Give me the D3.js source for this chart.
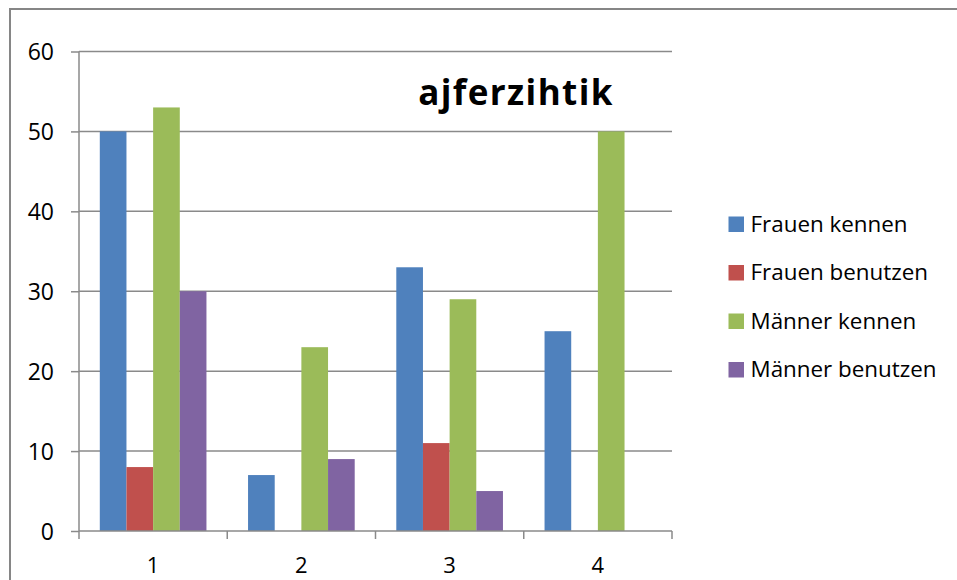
<!DOCTYPE html>
<html>
<head>
<meta charset="utf-8">
<script src="https://cdn.jsdelivr.net/npm/d3@7"></script>
<style>
  html, body { margin: 0; padding: 0; background: #fff; }
  svg { display: block; font-family: "Open Sans", Lato, sans-serif; font-variant-ligatures: none; }
</style>
</head>
<body>
<svg id="chart" width="957" height="580"></svg>
<script>
// Survey groups on the x axis
const categories = ["1", "2", "3", "4"];
// One array per series, in category order
const seriesNames = ["Frauen kennen", "Frauen benutzen", "Männer kennen", "Männer benutzen"];
const frauenKennen = [50, 7, 33, 25];
const frauenBenutzen = [8, 0, 11, 0];
const maennerKennen = [53, 23, 29, 50];
const maennerBenutzen = [30, 9, 5, 0];
const yTicks = [0, 10, 20, 30, 40, 50, 60];
const colors = ["#4F81BD", "#C0504D", "#9BBB59", "#8064A2"];
const titleText = "ajferzihtik";

const seriesValues = [frauenKennen, frauenBenutzen, maennerKennen, maennerBenutzen];

const svg = d3.select("#chart");
const plot = { left: 79, right: 672, top: 51.5, bottom: 531 };

// outer chart frame
svg.append("rect")
  .attr("x", 10).attr("y", 9)
  .attr("width", 960).attr("height", 600)
  .attr("fill", "none").attr("stroke", "#868686").attr("stroke-width", 2);

const x0 = d3.scaleBand().domain(categories).range([plot.left, plot.right]);
// bar cluster fills ~72% of each category band
const x1 = d3.scaleBand().domain(seriesNames).range([0, x0.bandwidth()]).paddingInner(0).paddingOuter(0.78);
const y = d3.scaleLinear().domain([0, 60]).range([plot.bottom, plot.top]);

// horizontal gridlines
svg.append("g").selectAll("line").data(yTicks.filter(d => d > 0)).join("line")
  .attr("x1", plot.left).attr("x2", plot.right)
  .attr("y1", d => y(d)).attr("y2", d => y(d))
  .attr("stroke", "#8a8a8a").attr("stroke-width", 1.5);

// bars
const groups = svg.append("g").selectAll("g").data(categories).join("g")
  .attr("transform", d => `translate(${x0(d)},0)`);
groups.selectAll("rect")
  .data((c, i) => seriesNames.map((s, j) => ({ s, j, v: seriesValues[j][i] })))
  .join("rect")
  .attr("x", d => x1(d.s))
  .attr("width", x1.bandwidth())
  .attr("y", d => y(d.v))
  .attr("height", d => y(0) - y(d.v))
  .attr("fill", d => colors[d.j]);

// y axis
const yAxis = svg.append("g").attr("transform", `translate(${plot.left},0)`)
  .call(d3.axisLeft(y).tickValues(yTicks).tickSize(8).tickPadding(17));
yAxis.select(".domain").attr("stroke", "#8a8a8a").attr("stroke-width", 1.5).attr("d", `M0,${plot.top}V${plot.bottom}`);
yAxis.selectAll(".tick line").attr("stroke", "#8a8a8a").attr("stroke-width", 1.5);
yAxis.selectAll(".tick text").attr("font-size", 23).attr("fill", "#000")
  .attr("font-family", "'Open Sans', sans-serif").attr("dy", "0.36em");

// x axis with ticks at band boundaries
const xAxis = svg.append("g").attr("transform", `translate(0,${plot.bottom})`);
xAxis.append("line").attr("x1", plot.left).attr("x2", plot.right)
  .attr("stroke", "#8a8a8a").attr("stroke-width", 1.5);
const bounds = categories.map(c => x0(c)).concat([x0(categories[categories.length - 1]) + x0.bandwidth()]);
xAxis.selectAll("line.tk").data(bounds).join("line").attr("class", "tk")
  .attr("x1", d => d).attr("x2", d => d).attr("y1", 0).attr("y2", 8)
  .attr("stroke", "#8a8a8a").attr("stroke-width", 1.5);
xAxis.selectAll("text").data(categories).join("text")
  .attr("x", d => x0(d) + x0.bandwidth() / 2).attr("y", 42)
  .attr("text-anchor", "middle").attr("font-size", 22).text(d => d);

// title
svg.append("text").attr("x", 516).attr("y", 105)
  .attr("text-anchor", "middle").attr("font-size", 35).attr("font-weight", "bold")
  .attr("letter-spacing", 1.4)
  .text(titleText);

// legend
const legend = svg.append("g").selectAll("g").data(seriesNames).join("g")
  .attr("transform", (d, i) => `translate(728.5,${216.5 + i * 48.5})`);
legend.append("rect").attr("width", 15.5).attr("height", 15.5).attr("fill", (d, i) => colors[i]);
legend.append("text").attr("x", 22).attr("y", 15.2).attr("font-size", 22.4).text(d => d);
</script>
</body>
</html>
